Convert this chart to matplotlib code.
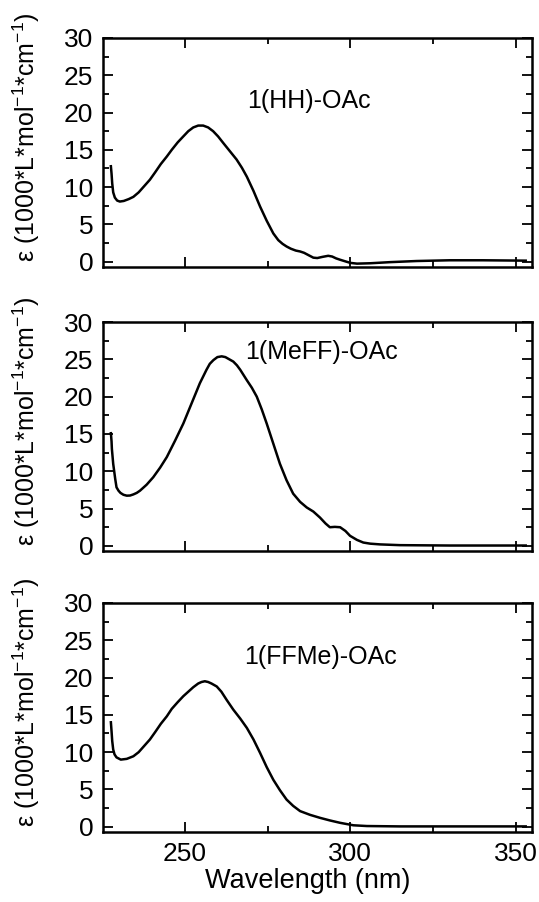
import matplotlib.pyplot as plt
from matplotlib.ticker import MultipleLocator

plt.rcParams['font.family'] = ['Liberation Sans', 'DejaVu Sans']
plt.rcParams['mathtext.fontset'] = 'custom'
plt.rcParams['mathtext.rm'] = 'Liberation Sans'
plt.rcParams['mathtext.it'] = 'Liberation Sans'

# wavelength (nm) / epsilon (1000 L mol-1 cm-1)
wl_hh = [227.6, 227.8, 228.0, 228.3, 228.8, 229.5, 230.3, 231.5, 233.0, 234.4, 236.0, 237.6,
         239.4, 241.0, 242.7, 244.5, 246.0, 247.8, 249.5, 251.0, 252.5, 254.0, 255.5, 257.0,
         258.5, 260.0, 261.6, 263.6, 265.6, 267.2, 268.7, 270.7, 272.7, 274.7, 276.7, 278.2,
         279.5, 280.7, 282.0, 283.5, 284.8, 286.0, 287.5, 288.8, 290.0, 291.5, 293.3, 294.5,
         295.7, 296.9, 298.5, 300.0, 302.0, 306.0, 312.0, 320.0, 330.0, 340.0, 353.0]
eps_hh = [12.8, 11.8, 10.5, 9.3, 8.6, 8.2, 8.07, 8.15, 8.4, 8.7, 9.3, 10.1,
          11.0, 12.0, 13.1, 14.1, 15.0, 16.0, 16.8, 17.5, 18.0, 18.25, 18.25, 18.0,
          17.5, 16.8, 15.9, 14.8, 13.7, 12.6, 11.4, 9.5, 7.4, 5.5, 3.8, 2.9,
          2.4, 2.05, 1.75, 1.5, 1.38, 1.2, 0.85, 0.55, 0.5, 0.65, 0.8, 0.7,
          0.45, 0.27, 0.05, -0.15, -0.25, -0.2, -0.05, 0.1, 0.2, 0.2, 0.15]

wl_meff = [227.6, 227.8, 227.9, 228.1, 228.3, 228.6, 228.9, 229.3, 229.9, 230.5, 231.4, 232.4,
           233.4, 234.4, 235.4, 236.4, 238.4, 240.4, 242.5, 244.5, 247.0, 249.5, 252.0, 254.5,
           256.5, 257.5, 258.6, 259.8, 261.1, 262.2, 263.4, 264.6, 265.7, 266.7, 267.7, 268.7,
           270.2, 271.7, 273.2, 274.7, 276.7, 278.7, 280.7, 282.7, 284.8, 286.8, 288.8, 290.8,
           292.5, 293.8, 295.3, 296.9, 298.5, 299.9, 302.0, 303.9, 306.0, 309.0, 315.0, 330.0,
           353.0]
eps_meff = [15.1, 14.0, 13.0, 12.0, 11.0, 10.0, 9.0, 7.85, 7.4, 7.1, 6.85, 6.73,
            6.75, 6.9, 7.1, 7.4, 8.2, 9.2, 10.5, 11.9, 14.1, 16.4, 19.1, 21.8,
            23.6, 24.4, 24.9, 25.3, 25.4, 25.3, 25.0, 24.7, 24.2, 23.6, 22.9, 22.2,
            21.2, 20.0, 18.3, 16.4, 13.7, 11.0, 8.8, 7.0, 5.9, 5.15, 4.6, 3.8,
            3.0, 2.5, 2.55, 2.5, 2.0, 1.35, 0.8, 0.45, 0.3, 0.2, 0.1, 0.05,
            0.05]

wl_ffme = [227.6, 227.8, 228.0, 228.3, 228.7, 229.3, 230.6, 232.4, 234.4, 236.0, 237.6, 239.4,
           241.0, 242.7, 244.5, 246.0, 247.8, 249.5, 251.0, 252.5, 254.0, 255.0, 256.0, 257.0,
           258.0, 259.6, 261.0, 262.6, 264.6, 266.7, 268.7, 270.7, 272.7, 274.7, 276.7, 278.7,
           280.7, 282.7, 284.8, 287.8, 290.8, 293.8, 296.9, 300.9, 305.0, 315.0, 330.0, 353.0]
eps_ffme = [14.0, 12.8, 11.5, 10.35, 9.7, 9.3, 9.0, 9.1, 9.45, 10.0, 10.8, 11.7,
            12.7, 13.8, 14.8, 15.8, 16.7, 17.5, 18.1, 18.7, 19.2, 19.4, 19.5, 19.4,
            19.2, 18.8, 18.1, 17.0, 15.7, 14.5, 13.25, 11.7, 9.9, 8.0, 6.3, 4.9,
            3.65, 2.8, 2.1, 1.6, 1.2, 0.85, 0.53, 0.2, 0.1, 0.05, 0.05, 0.05]

names = ['1(HH)-OAc', '1(MeFF)-OAc', '1(FFMe)-OAc']
label_pos = [(287.5, 21.5), (291.3, 26.0), (291.0, 22.7)]
series = [(wl_hh, eps_hh), (wl_meff, eps_meff), (wl_ffme, eps_ffme)]

fig = plt.figure(figsize=(5.39, 9.02), dpi=100)
boxes = [(0.191, 0.704, 0.796, 0.254),
         (0.191, 0.389, 0.796, 0.254),
         (0.191, 0.0776, 0.796, 0.254)]

for i, (box, (x, y)) in enumerate(zip(boxes, series)):
    ax = fig.add_axes(box)
    ax.plot(x, y, color='black', lw=1.8)
    ax.set_xlim(225.2, 354.9)
    ax.set_ylim(-0.7, 30)
    ax.xaxis.set_major_locator(MultipleLocator(50))
    ax.xaxis.set_minor_locator(MultipleLocator(25))
    ax.yaxis.set_major_locator(MultipleLocator(5))
    ax.yaxis.set_minor_locator(MultipleLocator(2.5))
    ax.tick_params(which='both', direction='in', top=True, right=True,
                   labelsize=19, width=1.3, pad=7)
    ax.tick_params(which='major', length=7.5)
    ax.tick_params(which='minor', length=4.5)
    for s in ax.spines.values():
        s.set_linewidth(1.8)
    ax.set_ylabel('ε (1000*L*mol$^{-1}$*cm$^{-1}$)', fontsize=18)
    ax.yaxis.set_label_coords(-0.142, 0.565)
    ax.text(label_pos[i][0], label_pos[i][1], names[i], fontsize=18,
            ha='center', va='center')
    if i < 2:
        ax.tick_params(labelbottom=False)
    else:
        ax.set_xlabel('Wavelength (nm)', fontsize=19.5, labelpad=0)
        ax.xaxis.set_label_coords(0.478, -0.155)

fig.savefig('out.png', dpi=100)
